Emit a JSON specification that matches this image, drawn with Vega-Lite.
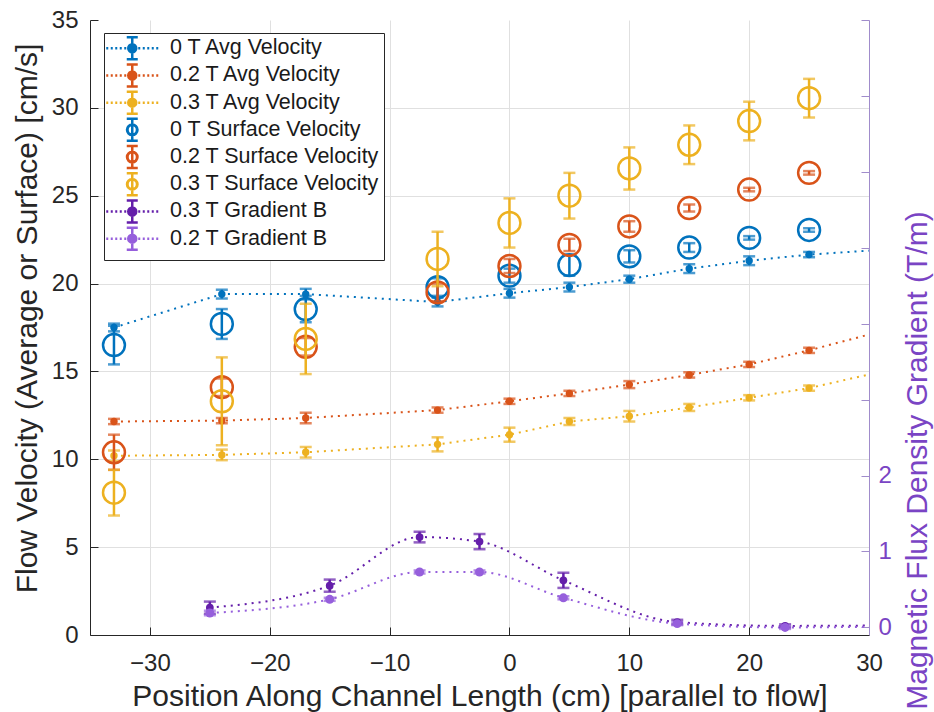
{
  "$schema": "https://vega.github.io/schema/vega-lite/v6.json",
  "width": 779,
  "height": 615,
  "autosize": {"type": "none"},
  "padding": {"left": 90, "top": 20, "right": 65, "bottom": 77},
  "background": "white",
  "config": {
    "font": "Liberation Sans",
    "view": {"stroke": null},
    "axis": {"labelFont": "Liberation Sans", "titleFont": "Liberation Sans", "titleFontWeight": "normal"}
  },
  "data": {
    "values": [
      {"s": "0 T Avg Velocity", "k": "avg", "x": -33, "y": 17.5, "e": 0.22},
      {"s": "0 T Avg Velocity", "k": "avg", "x": -24, "y": 19.4, "e": 0.25},
      {"s": "0 T Avg Velocity", "k": "avg", "x": -17, "y": 19.4, "e": 0.3},
      {"s": "0 T Avg Velocity", "k": "avg", "x": -6, "y": 18.95, "e": 0.25},
      {"s": "0 T Avg Velocity", "k": "avg", "x": 0, "y": 19.45, "e": 0.25},
      {"s": "0 T Avg Velocity", "k": "avg", "x": 5, "y": 19.8, "e": 0.25},
      {"s": "0 T Avg Velocity", "k": "avg", "x": 10, "y": 20.25, "e": 0.2},
      {"s": "0 T Avg Velocity", "k": "avg", "x": 15, "y": 20.85, "e": 0.25},
      {"s": "0 T Avg Velocity", "k": "avg", "x": 20, "y": 21.3, "e": 0.25},
      {"s": "0 T Avg Velocity", "k": "avg", "x": 25, "y": 21.65, "e": 0.15},
      {"s": "0 T Avg Velocity", "k": "avg", "x": 35, "y": 22.1, "e": null},
      {"s": "0.2 T Avg Velocity", "k": "avg", "x": -33, "y": 12.15, "e": 0.15},
      {"s": "0.2 T Avg Velocity", "k": "avg", "x": -24, "y": 12.2, "e": 0.15},
      {"s": "0.2 T Avg Velocity", "k": "avg", "x": -17, "y": 12.35, "e": 0.3},
      {"s": "0.2 T Avg Velocity", "k": "avg", "x": -6, "y": 12.8, "e": 0.15},
      {"s": "0.2 T Avg Velocity", "k": "avg", "x": 0, "y": 13.3, "e": 0.15},
      {"s": "0.2 T Avg Velocity", "k": "avg", "x": 5, "y": 13.75, "e": 0.15},
      {"s": "0.2 T Avg Velocity", "k": "avg", "x": 10, "y": 14.25, "e": 0.2},
      {"s": "0.2 T Avg Velocity", "k": "avg", "x": 15, "y": 14.8, "e": 0.15},
      {"s": "0.2 T Avg Velocity", "k": "avg", "x": 20, "y": 15.4, "e": 0.15},
      {"s": "0.2 T Avg Velocity", "k": "avg", "x": 25, "y": 16.2, "e": 0.15},
      {"s": "0.2 T Avg Velocity", "k": "avg", "x": 35, "y": 18.0, "e": null},
      {"s": "0.3 T Avg Velocity", "k": "avg", "x": -33, "y": 10.2, "e": 0.3},
      {"s": "0.3 T Avg Velocity", "k": "avg", "x": -24, "y": 10.25, "e": 0.3},
      {"s": "0.3 T Avg Velocity", "k": "avg", "x": -17, "y": 10.4, "e": 0.3},
      {"s": "0.3 T Avg Velocity", "k": "avg", "x": -6, "y": 10.85, "e": 0.4},
      {"s": "0.3 T Avg Velocity", "k": "avg", "x": 0, "y": 11.4, "e": 0.4},
      {"s": "0.3 T Avg Velocity", "k": "avg", "x": 5, "y": 12.15, "e": 0.2},
      {"s": "0.3 T Avg Velocity", "k": "avg", "x": 10, "y": 12.45, "e": 0.3},
      {"s": "0.3 T Avg Velocity", "k": "avg", "x": 15, "y": 12.95, "e": 0.2},
      {"s": "0.3 T Avg Velocity", "k": "avg", "x": 20, "y": 13.5, "e": 0.15},
      {"s": "0.3 T Avg Velocity", "k": "avg", "x": 25, "y": 14.05, "e": 0.15},
      {"s": "0.3 T Avg Velocity", "k": "avg", "x": 35, "y": 15.6, "e": null},
      {"s": "0 T Surface Velocity", "k": "surf", "x": -33, "y": 16.5, "e": 1.1},
      {"s": "0 T Surface Velocity", "k": "surf", "x": -24, "y": 17.7, "e": 0.85},
      {"s": "0 T Surface Velocity", "k": "surf", "x": -17, "y": 18.55, "e": 0.75},
      {"s": "0 T Surface Velocity", "k": "surf", "x": -6, "y": 19.8, "e": 0.5},
      {"s": "0 T Surface Velocity", "k": "surf", "x": 0, "y": 20.45, "e": 0.4},
      {"s": "0 T Surface Velocity", "k": "surf", "x": 5, "y": 21.05, "e": 0.6},
      {"s": "0 T Surface Velocity", "k": "surf", "x": 10, "y": 21.55, "e": 0.35},
      {"s": "0 T Surface Velocity", "k": "surf", "x": 15, "y": 22.05, "e": 0.25},
      {"s": "0 T Surface Velocity", "k": "surf", "x": 20, "y": 22.6, "e": 0.1},
      {"s": "0 T Surface Velocity", "k": "surf", "x": 25, "y": 23.05, "e": 0.1},
      {"s": "0.2 T Surface Velocity", "k": "surf", "x": -33, "y": 10.4, "e": 1.0},
      {"s": "0.2 T Surface Velocity", "k": "surf", "x": -24, "y": 14.1, "e": 0.5},
      {"s": "0.2 T Surface Velocity", "k": "surf", "x": -17, "y": 16.4, "e": 0.5},
      {"s": "0.2 T Surface Velocity", "k": "surf", "x": -6, "y": 19.5, "e": 0.5},
      {"s": "0.2 T Surface Velocity", "k": "surf", "x": 0, "y": 21.0, "e": 0.4},
      {"s": "0.2 T Surface Velocity", "k": "surf", "x": 5, "y": 22.2, "e": 0.35},
      {"s": "0.2 T Surface Velocity", "k": "surf", "x": 10, "y": 23.25, "e": 0.3},
      {"s": "0.2 T Surface Velocity", "k": "surf", "x": 15, "y": 24.3, "e": 0.2},
      {"s": "0.2 T Surface Velocity", "k": "surf", "x": 20, "y": 25.35, "e": 0.1},
      {"s": "0.2 T Surface Velocity", "k": "surf", "x": 25, "y": 26.3, "e": 0.1},
      {"s": "0.3 T Surface Velocity", "k": "surf", "x": -33, "y": 8.1, "e": 1.3},
      {"s": "0.3 T Surface Velocity", "k": "surf", "x": -24, "y": 13.3, "e": 2.5},
      {"s": "0.3 T Surface Velocity", "k": "surf", "x": -17, "y": 16.85, "e": 2.0},
      {"s": "0.3 T Surface Velocity", "k": "surf", "x": -6, "y": 21.4, "e": 1.55},
      {"s": "0.3 T Surface Velocity", "k": "surf", "x": 0, "y": 23.45, "e": 1.4},
      {"s": "0.3 T Surface Velocity", "k": "surf", "x": 5, "y": 25.0, "e": 1.3},
      {"s": "0.3 T Surface Velocity", "k": "surf", "x": 10, "y": 26.55, "e": 1.2},
      {"s": "0.3 T Surface Velocity", "k": "surf", "x": 15, "y": 27.9, "e": 1.1},
      {"s": "0.3 T Surface Velocity", "k": "surf", "x": 20, "y": 29.25, "e": 1.1},
      {"s": "0.3 T Surface Velocity", "k": "surf", "x": 25, "y": 30.55, "e": 1.1},
      {"s": "0.3 T Gradient B", "k": "grad", "x": -25, "y": 0.26, "e": 0.08},
      {"s": "0.3 T Gradient B", "k": "grad", "x": -15, "y": 0.55, "e": 0.08},
      {"s": "0.3 T Gradient B", "k": "grad", "x": -7.5, "y": 1.19, "e": 0.07},
      {"s": "0.3 T Gradient B", "k": "grad", "x": -2.5, "y": 1.13, "e": 0.1},
      {"s": "0.3 T Gradient B", "k": "grad", "x": 4.5, "y": 0.62, "e": 0.1},
      {"s": "0.3 T Gradient B", "k": "grad", "x": 14, "y": 0.07, "e": 0.03},
      {"s": "0.3 T Gradient B", "k": "grad", "x": 23, "y": 0.02, "e": 0.02},
      {"s": "0.3 T Gradient B", "k": "grad", "x": 35, "y": 0.03, "e": null},
      {"s": "0.2 T Gradient B", "k": "grad", "x": -25, "y": 0.19, "e": 0.03},
      {"s": "0.2 T Gradient B", "k": "grad", "x": -15, "y": 0.37, "e": 0.02},
      {"s": "0.2 T Gradient B", "k": "grad", "x": -7.5, "y": 0.73, "e": 0.02},
      {"s": "0.2 T Gradient B", "k": "grad", "x": -2.5, "y": 0.73, "e": 0.02},
      {"s": "0.2 T Gradient B", "k": "grad", "x": 4.5, "y": 0.39, "e": 0.02},
      {"s": "0.2 T Gradient B", "k": "grad", "x": 14, "y": 0.05, "e": 0.02},
      {"s": "0.2 T Gradient B", "k": "grad", "x": 23, "y": 0.0, "e": 0.02},
      {"s": "0.2 T Gradient B", "k": "grad", "x": 35, "y": 0.02, "e": null}
    ]
  },
  "encoding": {
    "x": {
      "field": "x", "type": "quantitative",
      "scale": {"domain": [-35, 30], "nice": false, "zero": false},
      "axis": {
        "title": "Position Along Channel Length (cm) [parallel to flow]",
        "values": [-30, -20, -10, 0, 10, 20, 30],
        "grid": true, "gridColor": "#e0e0e0", "gridWidth": 1,
        "domainColor": "#262626", "domainWidth": 1,
        "tickColor": "#262626", "tickSize": -8, "tickWidth": 1,
        "labelFontSize": 24, "labelColor": "#262626", "labelPadding": 24, "labelFlush": false,
        "titleFontSize": 30, "titleColor": "#262626", "titlePadding": 6
      }
    },
    "color": {
      "field": "s", "type": "nominal",
      "scale": {
        "domain": ["0 T Avg Velocity", "0.2 T Avg Velocity", "0.3 T Avg Velocity", "0 T Surface Velocity", "0.2 T Surface Velocity", "0.3 T Surface Velocity", "0.3 T Gradient B", "0.2 T Gradient B"],
        "range": ["#0072BD", "#D95319", "#EDB120", "#0072BD", "#D95319", "#EDB120", "#641EAA", "#965FDC"]
      },
      "legend": {
        "title": null,
        "orient": "none", "legendX": 14, "legendY": 13,
        "fillColor": "white", "strokeColor": "#262626",
        "padding": 4.5, "rowPadding": -5.8,
        "labelFont": "Liberation Sans", "labelFontSize": 21.5, "labelColor": "#1a1a1a", "labelLimit": 400,
        "labelOffset": 27, "symbolOffset": 13,
        "symbolSize": 100, "symbolStrokeWidth": 2.5, "symbolOpacity": 1,
        "encode": {
          "symbols": {
            "update": {
              "shape": {"signal": "indexof(datum.value, 'Surface') >= 0 ? 'M0,-2.2V2.2M-1.1,-2.2H1.1M-1.1,2.2H1.1M1.05,0A1.05,1.05,0,1,1,-1.05,0A1.05,1.05,0,1,1,1.05,0ZM0.95,0A0.95,0.95,0,1,0,-0.95,0A0.95,0.95,0,1,0,0.95,0Z' : 'M-5.2,0h0.4M-4.3,0h0.4M-3.4,0h0.4M-2.5,0h0.4M-1.6,0h0.4M1.2,0h0.4M2.1,0h0.4M3,0h0.4M3.9,0h0.4M4.8,0h0.4M0,-2.2V2.2M-1.1,-2.2H1.1M-1.1,2.2H1.1M0.8,0A0.8,0.8,0,1,1,-0.8,0A0.8,0.8,0,1,1,0.8,0Z'"},
              "stroke": {"signal": "scale('color', datum.value)"},
              "strokeWidth": {"value": 2.5},
              "size": {"value": 100},
              "opacity": {"value": 1}
            }
          }
        }
      }
    }
  },
  "layer": [
    {
      "encoding": {
        "y": {
          "field": "y", "type": "quantitative",
          "scale": {"domain": [0, 35], "nice": false, "zero": false},
          "axis": {
            "title": "Flow Velocity (Average or Surface) [cm/s]",
            "values": [0, 5, 10, 15, 20, 25, 30, 35],
            "grid": true,
            "gridColor": {"condition": {"test": "datum.value == 35", "value": "transparent"}, "value": "#e0e0e0"},
            "domainColor": "#262626", "tickColor": "#262626", "tickSize": -8,
            "labelFontSize": 24, "labelColor": "#262626", "labelPadding": 20,
            "titleFontSize": 30, "titleColor": "#262626",
            "titleAngle": 270, "titleX": -48, "titleY": 298, "titleBaseline": "bottom", "titleAlign": "center"
          }
        }
      },
      "layer": [
        {
          "transform": [{"filter": "datum.k == 'avg'"}],
          "mark": {"type": "line", "strokeDash": [2, 5], "strokeWidth": 2, "interpolate": "linear", "clip": true}
        },
        {
          "transform": [{"filter": "datum.k == 'avg' && datum.x <= 30"}],
          "mark": {"type": "errorbar", "ticks": {"size": 12, "thickness": 2.5}, "rule": {"strokeWidth": 2.5}},
          "encoding": {"yError": {"field": "e"}}
        },
        {
          "transform": [{"filter": "datum.k == 'avg' && datum.x <= 30"}],
          "mark": {"type": "point", "filled": true, "size": 55, "opacity": 1}
        },
        {
          "transform": [{"filter": "datum.s == '0 T Surface Velocity'"}],
          "mark": {"type": "errorbar", "ticks": {"size": 12, "thickness": 2.5}, "rule": {"strokeWidth": 2.5}},
          "encoding": {"yError": {"field": "e"}}
        },
        {
          "transform": [{"filter": "datum.s == '0 T Surface Velocity'"}],
          "mark": {"type": "point", "filled": false, "size": 480, "strokeWidth": 2.5, "opacity": 1}
        },
        {
          "transform": [{"filter": "datum.s == '0.2 T Surface Velocity'"}],
          "mark": {"type": "errorbar", "ticks": {"size": 12, "thickness": 2.5}, "rule": {"strokeWidth": 2.5}},
          "encoding": {"yError": {"field": "e"}}
        },
        {
          "transform": [{"filter": "datum.s == '0.2 T Surface Velocity'"}],
          "mark": {"type": "point", "filled": false, "size": 480, "strokeWidth": 2.5, "opacity": 1}
        },
        {
          "transform": [{"filter": "datum.s == '0.3 T Surface Velocity'"}],
          "mark": {"type": "errorbar", "ticks": {"size": 12, "thickness": 2.5}, "rule": {"strokeWidth": 2.5}},
          "encoding": {"yError": {"field": "e"}}
        },
        {
          "transform": [{"filter": "datum.s == '0.3 T Surface Velocity'"}],
          "mark": {"type": "point", "filled": false, "size": 480, "strokeWidth": 2.5, "opacity": 1}
        }
      ]
    },
    {
      "encoding": {
        "y": {
          "field": "y", "type": "quantitative",
          "scale": {"domain": [-0.1, 8], "nice": false, "zero": false},
          "axis": {
            "orient": "right",
            "title": "Magnetic Flux Density Gradient (T/m)",
            "values": [0, 1, 2, 3, 4, 5, 6, 7, 8],
            "labelExpr": "datum.value <= 2 ? datum.label : ''",
            "grid": false,
            "domainColor": "#A08CCB", "tickColor": "#A08CCB", "tickSize": -8,
            "labelFontSize": 24, "labelColor": "#7A44C4", "labelPadding": 17,
            "titleFontSize": 30, "titleColor": "#7A44C4",
            "titleAngle": 270, "titleX": 33, "titleY": 440, "titleBaseline": "top", "titleAlign": "center"
          }
        }
      },
      "layer": [
        {
          "transform": [{"filter": "datum.k == 'grad'"}],
          "mark": {"type": "line", "strokeDash": [2, 5], "strokeWidth": 2, "interpolate": "monotone", "clip": true}
        },
        {
          "transform": [{"filter": "datum.s == '0.3 T Gradient B' && datum.x <= 30"}],
          "mark": {"type": "errorbar", "ticks": {"size": 12, "thickness": 2.5}, "rule": {"strokeWidth": 2.5}},
          "encoding": {"yError": {"field": "e"}}
        },
        {
          "transform": [{"filter": "datum.s == '0.3 T Gradient B' && datum.x <= 30"}],
          "mark": {"type": "point", "filled": true, "size": 60, "opacity": 1}
        },
        {
          "transform": [{"filter": "datum.s == '0.2 T Gradient B' && datum.x <= 30"}],
          "mark": {"type": "errorbar", "ticks": {"size": 12, "thickness": 2.5}, "rule": {"strokeWidth": 2.5}},
          "encoding": {"yError": {"field": "e"}}
        },
        {
          "transform": [{"filter": "datum.s == '0.2 T Gradient B' && datum.x <= 30"}],
          "mark": {"type": "point", "filled": true, "size": 80, "opacity": 1}
        }
      ]
    }
  ],
  "resolve": {"scale": {"y": "independent"}}
}
